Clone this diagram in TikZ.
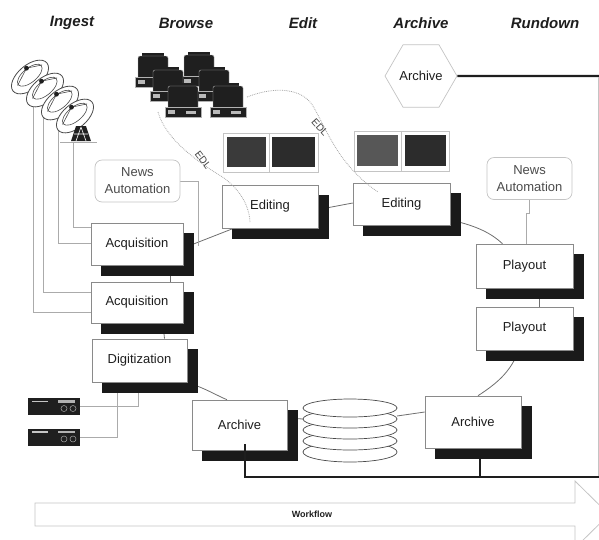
\documentclass[tikz,border=0pt]{standalone}
\usepackage{fontspec}
\setmainfont{Liberation Sans}
\usetikzlibrary{shapes.geometric,shadows}
\definecolor{ink}{HTML}{1E1E1E}
\definecolor{boxline}{HTML}{8A8A8A}
\definecolor{shade}{HTML}{1A1A1A}
\definecolor{ring}{HTML}{6E6E6E}
\definecolor{feed}{HTML}{ABABAB}
\definecolor{soft}{HTML}{C4C4C4}
\definecolor{pcbody}{HTML}{1F1F1F}
\definecolor{screenA}{HTML}{3A3A3A}
\definecolor{screenB}{HTML}{2C2C2C}
\definecolor{dishline}{HTML}{4A4A4A}
\pgfdeclarelayer{back}
\pgfsetlayers{back,main}
\begin{document}
\begin{tikzpicture}[x=1pt,y=-1pt,
  lbl/.style={font=\fontsize{13}{15}\selectfont, text=ink},
  head/.style={font=\fontsize{15}{18}\selectfont\bfseries\itshape, text=ink},
  proc/.style={lbl, draw=boxline, line width=0.6pt, fill=white, inner sep=0pt,
    copy shadow={shadow xshift=10pt, shadow yshift=-10pt, fill=shade, draw=shade}},
  newsbox/.style={font=\fontsize{13}{17}\selectfont, text=ink!80, align=center,
    draw=soft, line width=0.7pt, rounded corners=7pt, fill=white, inner sep=0pt,
    minimum width=85pt, minimum height=42pt},
  ringline/.style={draw=ring, line width=0.8pt},
  feedline/.style={draw=feed, line width=0.7pt},
  edl/.style={draw=gray!70, line width=0.8pt, densely dotted},
  bus/.style={draw=ink, line width=2.2pt},
  deck/.style={fill=pcbody, minimum width=52pt, minimum height=17pt, inner sep=0pt},
  disk/.style={draw=dishline, line width=0.7pt, fill=white},
  pcunit/.pic={
    \fill[pcbody] (4,0) rectangle (26,4);
    \fill[pcbody, rounded corners=2pt] (0,3) rectangle (30,26);
    \draw[gray!60, line width=0.4pt, rounded corners=2pt] (0,3) rectangle (30,26);
    \fill[pcbody] (-3,24) rectangle (33,34);
    \draw[gray!60, line width=0.4pt] (-3,24) rectangle (33,34);
    \fill[gray!55] (0,27) rectangle (7,31);
    \fill[gray!55] (18,28) rectangle (28,30.5);
  }]
\useasboundingbox (0,0) rectangle (599,539);
\clip (0,0) rectangle (599,539);

% column headings
\node[head] (hIngest)  at (72,23)  {Ingest};
\node[head] (hBrowse)  at (186,23) {Browse};
\node[head] (hEdit)    at (303,23) {Edit};
\node[head] (hArchive) at (421,23) {Archive};
\node[head] (hRundown) at (545,23) {Rundown};

% satellite dishes
\foreach \cx/\cy in {30/77, 45/90, 60/103, 75/116}{
  \begin{scope}[shift={(\cx,\cy)}, rotate=40]
    \draw[dishline, line width=0.8pt, fill=white] (0,0) ellipse [x radius=22, y radius=12];
    \draw[dishline, line width=0.6pt] (1,-1.5) ellipse [x radius=15, y radius=7];
    \draw[dishline, line width=0.6pt] (-15,-1.5) -- (3,-9) -- (17,-1.5);
    \fill[pcbody] (3,-9) circle (2.4);
  \end{scope}}
\fill[pcbody] (76,126) -- (86,126) -- (91,141) -- (71,141) -- cycle;
\draw[white, line width=0.6pt] (81,127) -- (76,141) (81,127) -- (86,141) (74,134) -- (88,134);
\draw[feedline] (60,142) -- (97,142);
\coordinate (pole1) at (33,98);
\coordinate (pole2) at (43,108);
\coordinate (pole3) at (58,120);
\coordinate (pole4) at (73,142);

% browse workstations
\foreach \px/\py in {138/53, 184/52, 153/67, 199/67, 168/83, 213/83}
  \pic at (\px,\py) {pcunit};

% edit monitors
\draw[soft, line width=0.6pt] (223,133) rectangle (318,172);
\draw[soft, line width=0.6pt] (269,133) -- (269,172);
\fill[screenA] (227,137) rectangle (266,167);
\fill[screenB] (272,137) rectangle (315,167);
\draw[soft, line width=0.6pt] (354,131) rectangle (449,171);
\draw[soft, line width=0.6pt] (401,131) -- (401,171);
\fill[screenA!85!white] (357,135) rectangle (398,166);
\fill[screenB] (405,135) rectangle (446,166);

% archive store
\node[regular polygon, regular polygon sides=6, minimum size=72pt, inner sep=0pt,
      draw=soft, line width=0.7pt, fill=white, lbl] (hex) at (421,76) {Archive};
\coordinate (hexEnd) at (599,76);

% news automation
\node[newsbox] (newsL) at (137.5,181) {News\\Automation};
\node[newsbox] (newsR) at (529.5,178.5) {News\\Automation};

% process boxes
\node[proc, minimum width=92pt, minimum height=42pt] (acq1) at (137,244) {Acquisition};
\node[proc, minimum width=92pt, minimum height=41pt] (acq2) at (137,302.5) {Acquisition};
\node[proc, minimum width=95pt, minimum height=43pt] (dig)  at (139.5,360.5) {Digitization};
\node[proc, minimum width=96pt, minimum height=43pt] (ed1)  at (270,206.5) {Editing};
\node[proc, minimum width=97pt, minimum height=42pt] (ed2)  at (401.5,204) {Editing};
\node[proc, minimum width=97pt, minimum height=44pt] (play1) at (524.5,266) {Playout};
\node[proc, minimum width=97pt, minimum height=43pt] (play2) at (524.5,328.5) {Playout};
\node[proc, minimum width=95pt, minimum height=50pt] (arcL) at (239.5,425) {Archive};
\node[proc, minimum width=96pt, minimum height=52pt] (arcR) at (473,422) {Archive};

% disk stack
\foreach \yy/\ry in {452/10, 441/9, 430/9, 419/9, 408/9}
  \draw[disk] (350,\yy) ellipse [x radius=47, y radius=\ry];
\coordinate (diskL) at (303,419);
\coordinate (diskR) at (397,416);

% tape decks
\node[deck] (deck1) at (54,406.5) {};
\node[deck] (deck2) at (54,437) {};
\foreach \d in {deck1,deck2}{
  \begin{scope}[shift={(\d.center)}]
    \fill[gray!60] (4,-6.5) rectangle (21,-4);
    \fill[gray!45] (-22,-6) rectangle (-6,-4.5);
    \draw[gray!70, line width=0.5pt] (10,2) circle (3) (19,2) circle (3);
  \end{scope}}

% EDL paths
\draw[edl] (158,112) .. controls (166,140) and (198,162) .. (224,178)
           .. controls (240,190) and (249,205) .. (250,222);
\draw[edl] (247,97) .. controls (275,86) and (302,88) .. (313,106)
           .. controls (326,128) and (338,165) .. (378,192);
\node[font=\fontsize{10}{12}\selectfont, text=ink!85, rotate=-52] (edl1) at (203,160) {EDL};
\node[font=\fontsize{10}{12}\selectfont, text=ink!85, rotate=-48] (edl2) at (320,127) {EDL};

% archive buses
\coordinate (busL) at (245,477);
\coordinate (busR) at (480,477);
\coordinate (busEnd) at (599,477);
\draw[bus] (hex.east) -- (hexEnd);
\draw[bus] ([xshift=5.5pt, yshift=6pt]arcL.south) -- (busL) -- (busEnd);
\draw[bus] ([xshift=7pt, yshift=-11pt]arcR.south) -- (busR);
\draw[soft, line width=0.6pt] (598,77) -- (598,476);

% workflow arrow
\draw[soft, line width=0.8pt] (35,503) -- (575,503) -- (575,481) -- (609,514.5)
  -- (575,548) -- (575,526) -- (35,526) -- cycle;
\node[font=\fontsize{9}{11}\selectfont\bfseries, text=ink] (flow) at (312,514.5) {Workflow};

\begin{pgfonlayer}{back}
  % ring of processes
  \draw[ringline] ([yshift=-4pt]acq1.east) -- ([xshift=12pt]ed1.south west);
  \draw[ringline] ([yshift=-3pt]ed1.east) -- ([yshift=1pt]ed2.west);
  \draw[ringline] ([yshift=-16pt]ed2.east) .. controls (478,226) and (492,234) .. ([xshift=-22pt]play1.north);
  \draw[ringline] ([xshift=15pt]play1.south) -- ([xshift=15pt]play2.north);
  \draw[ringline] ([xshift=5pt]arcR.north) .. controls (496,384) and (511,372) .. ([xshift=-6pt]play2.south);
  \draw[ringline] (diskR) -- ([yshift=10pt]arcR.west);
  \draw[ringline] ([yshift=7pt]arcL.east) -- (diskL);
  \draw[ringline] ([xshift=8pt, yshift=-3pt]dig.south east) .. controls (208,390) and (218,396) .. ([xshift=-12.5pt]arcL.north);
  \draw[ringline] ([xshift=33pt]acq1.south) -- ([xshift=33pt]acq2.north);
  \draw[ringline] ([xshift=26pt]acq2.south) -- ([xshift=25pt]dig.north);
  % feeds
  \draw[feedline] (pole1) |- ([yshift=-9.5pt]acq2.west);
  \draw[feedline] (pole2) |- ([yshift=10.5pt]acq2.west);
  \draw[feedline] (pole3) |- ([yshift=1pt]acq1.west);
  \draw[feedline] (pole4) |- ([yshift=17pt]acq1.west);
  \draw[feedline] (newsL.east) -| (198,245.5);
  \draw[feedline] (newsR.south) -- ++(0,13) -| ([xshift=1.5pt]play1.north);
  \draw[feedline] (deck1.east) -| ([xshift=-1.5pt]dig.south);
  \draw[feedline] (deck2.east) -| ([xshift=-22.5pt]dig.south);
\end{pgfonlayer}
\end{tikzpicture}
\end{document}
